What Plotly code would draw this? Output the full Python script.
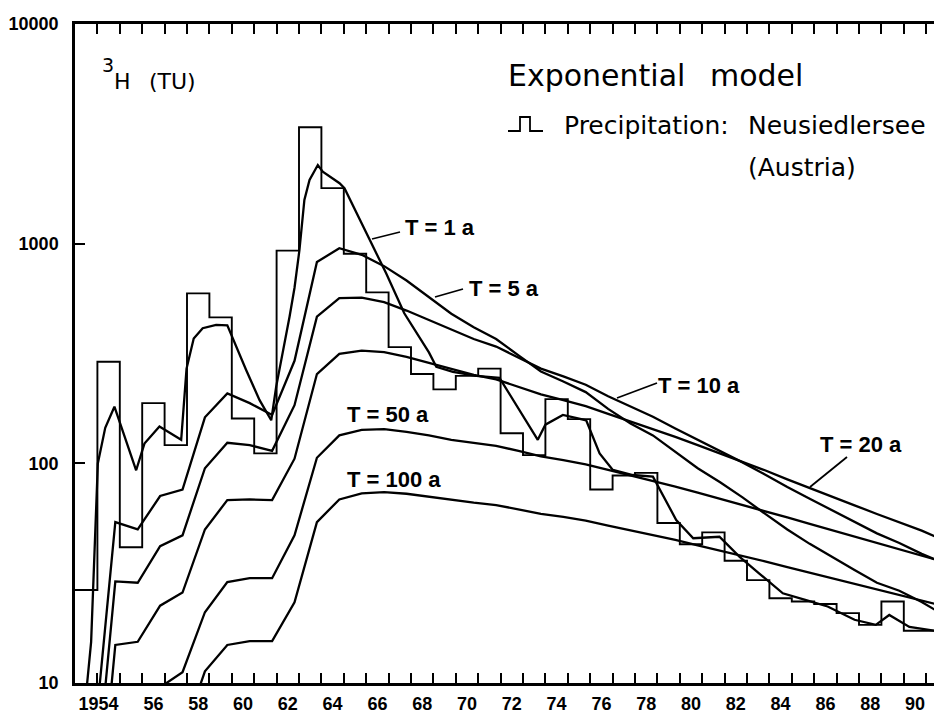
import plotly.graph_objects as go

# ---------------- data ----------------
prec_years = list(range(1953, 1992))
prec_values = [26.5, 290, 41.5, 188, 121, 594, 462, 160, 111, 930, 3390, 1790, 900, 600,
               338, 255, 217, 250, 270, 137, 109, 196, 159, 76, 88, 90.5, 53.5, 42.8, 48.5,
               36, 29.4, 24.3, 23.5, 22.9, 20.8, 18.4, 23.5, 17.3, 17.3]

t1_years = [1953.05, 1953.72, 1954.02, 1954.35, 1954.76, 1955.73, 1956.1, 1956.77, 1957.74,
            1957.98, 1958.3, 1958.7, 1959.3, 1959.8, 1960.64, 1961.24, 1961.76, 1961.98,
            1962.58, 1962.8, 1963.02, 1963.24, 1963.47, 1963.84, 1964.06, 1964.81, 1965.03,
            1966.15, 1966.89, 1967.7, 1968.8, 1969.13, 1969.87, 1970.91, 1971.95, 1973.66,
            1974.0, 1974.78, 1975.82, 1976.42, 1977.01, 1977.9, 1978.8, 1979.84, 1980.6,
            1981.77, 1982.66, 1983.55, 1984.6, 1985.6, 1986.6, 1987.8, 1988.75, 1989.35,
            1990.25, 1991.4]
t1_values = [3, 15.4, 100, 145, 181, 93, 123, 147, 128,
             270, 370, 412, 427, 425, 266, 194, 157, 223,
             466, 630, 936, 1581, 1950, 2281, 2128, 1884, 1787,
             1039, 733, 482, 320, 275, 261, 250, 245, 128,
             150, 166, 157, 111, 93.3, 88.5, 87, 55.2, 45.6,
             46.3, 37.6, 31.5, 25.6, 23.9, 22.3, 19.4, 18.4, 20.4,
             18.0, 17.3]

model_years = [1953.8 + i for i in range(38)] + [1991.4]
t5_values = [4.7, 54, 50, 71, 76, 162, 208, 188, 166, 293, 825, 953, 890, 790, 680, 570, 480,
             416, 368, 310, 262, 236, 211, 177, 152, 134, 113, 95, 82, 70, 59, 50, 43, 37.4,
             32.7, 28.6, 26.3, 23.4, 21.5]
t10_values = [2.45, 29, 28.6, 42, 47, 95, 124, 121, 114, 184, 465, 565, 568, 542, 496, 448,
              404, 368, 340, 304, 270, 249, 228, 202, 181, 163, 144, 128, 114, 101, 89, 78,
              69, 61, 54, 48, 43.4, 38.7, 36.5]
t20_values = [1.26, 14.9, 15.4, 22.5, 25.8, 50, 68, 68.5, 68, 105, 255, 315, 326, 321, 305,
              287, 268, 253, 241, 223, 206, 194, 182, 168, 155, 144, 132, 121, 111, 101, 93,
              84.5, 77, 70.5, 64.4, 58.8, 54, 49.4, 46.5]
t50_values = [0.51, 6.05, 6.41, 9.56, 11.2, 21, 28.8, 30, 30, 47, 106, 134, 142, 143, 139,
              134, 128, 124, 120, 114, 107.5, 103.5, 99, 93.3, 88.2, 83.5, 78.4, 73.5, 69,
              64.7, 60.6, 56.7, 53, 49.6, 46.4, 43.4, 40.7, 38, 36.5]
t100_values = [0.26, 3.05, 3.26, 4.87, 5.73, 11.3, 14.9, 15.5, 15.5, 23.3, 54, 68.5, 73, 74,
               72.7, 70.5, 68.1, 66.2, 64.6, 61.8, 58.9, 57, 54.9, 52.1, 49.6, 47.3, 44.8,
               42.3, 40.1, 37.9, 35.8, 33.7, 31.8, 30, 28.3, 26.7, 25.2, 23.8, 22.9]

year_ticks = list(range(1954, 1992))
x_label_pos = [1954.05] + [1956.5 + 2 * i for i in range(18)]
x_label_text = ["1954"] + [str(56 + 2 * i) for i in range(18)]
y_tick_vals = [10, 100, 1000, 10000]
y_tick_text = ["10", "100", "1000", "10000"]

# ---------------- figure ----------------
W, H = 934, 715
ML, MR, MT, MB = 75, 0, 24, 32
PW, PH = W - ML - MR, H - MT - MB
X_RANGE = [1953, 1953 + PW / 22.4]


def px(x):
    return (x - ML) / PW


def py(y):
    return (H - MB - y) / PH


fig = go.Figure()
fig.add_trace(go.Scatter(x=prec_years + [prec_years[-1] + 1],
                         y=prec_values + [prec_values[-1]],
                         mode="lines", line=dict(color="black", width=1.9, shape="hv"),
                         showlegend=False, hoverinfo="skip"))
curve_style = dict(color="black", width=2.3)
fig.add_trace(go.Scatter(x=t1_years, y=t1_values, mode="lines", line=curve_style,
                         showlegend=False, name="T = 1 a"))
for name, vals in [("T = 5 a", t5_values), ("T = 10 a", t10_values),
                   ("T = 20 a", t20_values), ("T = 50 a", t50_values),
                   ("T = 100 a", t100_values)]:
    fig.add_trace(go.Scatter(x=model_years, y=vals, mode="lines", line=curve_style,
                             showlegend=False, name=name))
# carrier traces for the label axis and the top tick axis
for ax in ("x2", "x3"):
    fig.add_trace(go.Scatter(x=[None], y=[None], xaxis=ax, mode="lines",
                             showlegend=False, hoverinfo="skip"))

TICK_COLOR = "black"
tick_font = dict(family="Liberation Sans", size=18, color="black", weight="bold")
fig.update_layout(
    xaxis=dict(range=X_RANGE, showline=True, linecolor="black", linewidth=2.5,
               mirror=False, tickmode="array", tickvals=year_ticks,
               ticktext=[""] * len(year_ticks), ticks="inside", ticklen=10, tickwidth=2,
               tickcolor=TICK_COLOR, showgrid=False, zeroline=False),
    xaxis2=dict(range=X_RANGE, overlaying="x", side="bottom", anchor="y",
                tickmode="array", tickvals=x_label_pos, ticktext=x_label_text,
                ticks="", showline=False, showgrid=False, zeroline=False,
                tickfont=tick_font, ticklabelstandoff=8),
    xaxis3=dict(range=X_RANGE, overlaying="x", side="top", anchor="y",
                tickmode="array", tickvals=year_ticks, showticklabels=False,
                ticks="inside", ticklen=10, tickwidth=2, tickcolor=TICK_COLOR,
                showline=True, linecolor="black", linewidth=2.5,
                showgrid=False, zeroline=False),
    yaxis=dict(type="log", range=[1, 4], showline=True, linecolor="black", linewidth=2.5,
               mirror=False, tickmode="array", tickvals=y_tick_vals, ticktext=y_tick_text,
               ticks="inside", ticklen=10, tickwidth=2, tickcolor=TICK_COLOR,
               tickfont=tick_font, ticklabelstandoff=10, showgrid=False, zeroline=False),
)

label_font = dict(family="Liberation Sans", size=22, color="black", weight="bold")
annos = [
    ("T = 1 a", 440, 227), ("T = 5 a", 504, 288), ("T = 10 a", 699, 385),
    ("T = 20 a", 861, 444), ("T = 50 a", 388, 414), ("T = 100 a", 394, 479),
]
for txt, x, y in annos:
    fig.add_annotation(text=txt, x=px(x), y=py(y), xref="paper", yref="paper",
                       showarrow=False, font=label_font, xanchor="center", yanchor="middle")

leaders = [((372, 239), (400, 232)), ((435, 297), (463, 289)),
           ((617, 398), (657, 383)), ((810, 487), (847, 457))]
for (x0, y0), (x1, y1) in leaders:
    fig.add_shape(type="line", xref="paper", yref="paper", x0=px(x0), y0=py(y0),
                  x1=px(x1), y1=py(y1), line=dict(color="black", width=1.8))

title_font = dict(family="DejaVu Sans", color="black")
texts = [
    ("3", 100, 65, 19), ("H", 112, 81, 22), ("(TU)", 147, 81, 22),
    ("Exponential", 506, 75, 30), ("model", 708, 75, 30),
    ("Precipitation:", 562, 125, 25), ("Neusiedlersee", 746, 125, 25),
    ("(Austria)", 746, 167, 25),
]
for txt, x, y, s in texts:
    fig.add_annotation(text=txt, x=px(x), y=py(y), xref="paper", yref="paper",
                       showarrow=False, xanchor="left", yanchor="middle",
                       font=dict(title_font, size=s))
# step-line symbol next to the precipitation caption
sym = "M{},{} L{},{} L{},{} L{},{} L{},{} L{},{}".format(
    px(508), py(131), px(520), py(131), px(520), py(117), px(530), py(117),
    px(530), py(131), px(543), py(131))
fig.add_shape(type="path", path=sym, xref="paper", yref="paper",
              line=dict(color="black", width=1.8))

fig.update_layout(width=W, height=H, margin=dict(l=ML, r=MR, t=MT, b=MB),
                  plot_bgcolor="white", paper_bgcolor="white")
fig.write_html("out.html", config={"displayModeBar": False},
               post_script="document.body.style.margin='0px';"
                           "document.body.style.overflow='hidden';")
